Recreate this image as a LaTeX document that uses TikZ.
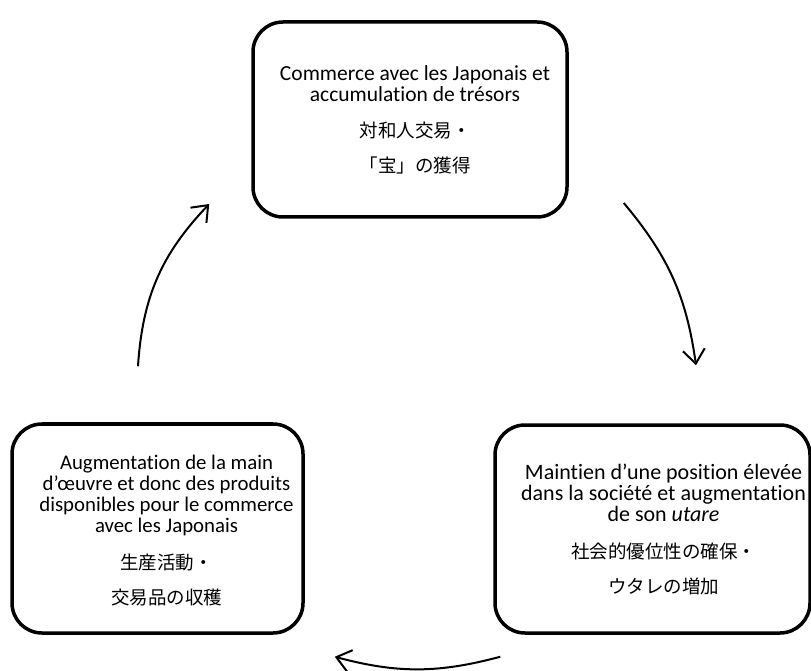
\documentclass[tikz,border=0pt]{standalone}
\usepackage{fontspec}
\setmainfont{Carlito}[Ligatures=NoCommon]
\newfontfamily\jpfont{Noto Sans CJK JP}
\usetikzlibrary{positioning,arrows.meta}
\tikzset{
stage/.style={
  draw,
  line width=3.5pt,
  rounded corners=30pt
  },
stagetext/.style={
  align=center,
  inner sep=0pt,
  font=\fontsize{21.5}{21}\selectfont
  },
cyc/.style={
  ->,
  line width=2pt
  }
}
\newcommand{\jp}[1]{{\jpfont\fontsize{18.5}{21}\selectfont #1}}

\begin{document}
\begin{tikzpicture}[>={Straight Barb[length=14pt,width=22pt]},x=1pt,y=1pt]
            \useasboundingbox (0,0) rectangle (811,670);
            % the three stages
            \node[stage,minimum width=314pt,minimum height=195pt] (trade) at (410,550.5) {};
            \node[stage,minimum width=315pt,minimum height=208pt] (rank) at (652.5,141) {};
            \node[stage,minimum width=291pt,minimum height=209pt] (labour) at (157.5,141.5) {};
            % their texts
            \node[stagetext] (trade text) at ([xshift=5pt]trade.center)
            {Commerce avec les Japonais et\\accumulation de trésors\\[15pt]
             \jp{対和人交易・}\\[14pt]\jp{「宝」の獲得}};
            \node[stagetext,font=\fontsize{22}{21}\selectfont] (rank text) at ([xshift=11pt]rank.center)
            {Maintien d’une position élevée\\dans la société et augmentation\\de son \textit{utare}\\[16pt]
             \jp{社会的優位性の確保・}\\[14pt]\jp{ウタレの増加}};
            \node[stagetext,font=\fontsize{20.8}{21}\selectfont] (labour text) at ([xshift=9pt,yshift=-2pt]labour.center)
            {Augmentation de la main\\d’œuvre et donc des produits\\disponibles pour le commerce\\avec les Japonais\\[16pt]
             \jp{生産活動・}\\[14pt]\jp{交易品の収穫}};
            % ends of the arrows
            \coordinate (trade out) at ([shift={(55,-83.5)}]trade.east);
            \coordinate (rank in) at ([shift={(43.5,58)}]rank.north);
            \coordinate (rank out) at ([shift={(7,-22)}]rank.south west);
            \coordinate (labour in) at ([shift={(30,-22)}]labour.south east);
            \coordinate (labour out) at ([shift={(-19.5,56)}]labour.north);
            \coordinate (trade in) at ([shift={(-42,-84.5)}]trade.west);
            \draw[cyc] (trade out) to[bend left=16] (rank in);
            \draw[cyc] (rank out) to[bend left=15] (labour in);
            \draw[cyc] (labour out) to[bend left=20] (trade in);
        \end{tikzpicture}
\end{document}
